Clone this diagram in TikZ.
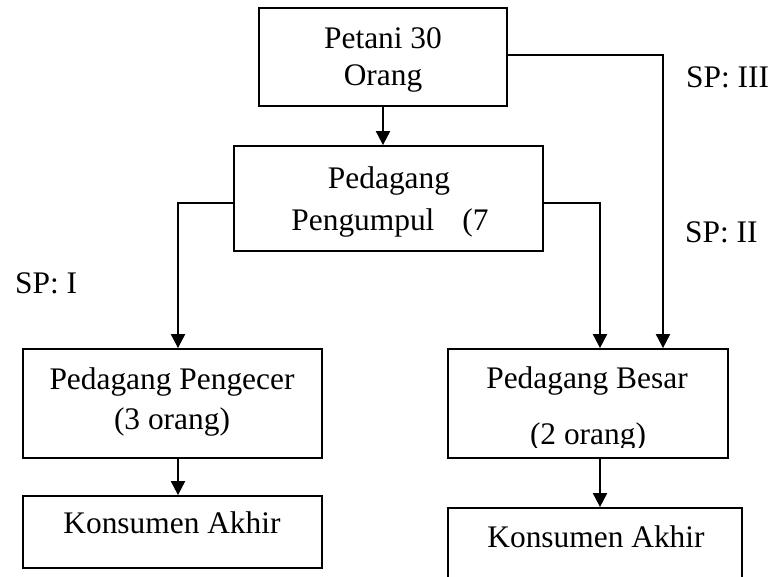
\documentclass[tikz,border=0pt]{standalone}
\usepackage{fontspec}
\setmainfont{Liberation Serif}
\usetikzlibrary{arrows.meta}
\begin{document}
\begin{tikzpicture}[x=1pt,y=-1pt,
  box/.style={draw,line width=1.8pt,rectangle,inner sep=0pt},
  txt/.style={anchor=base,inner sep=0pt,font=\fontsize{31.4}{37}\selectfont},
  arr/.style={line width=2pt,-{Triangle[width=14pt,length=14pt]}}]
\clip (0,0) rectangle (771,576);
\fill[white] (0,0) rectangle (771,576);
% boxes
\node[box,minimum width=248pt,minimum height=98pt] (petani) at (383,57) {};
\node[box,minimum width=309pt,minimum height=105pt] (pengumpul) at (388.5,198.5) {};
\node[box,minimum width=299pt,minimum height=109pt] (pengecer) at (172.5,403.5) {};
\node[box,minimum width=280pt,minimum height=109pt] (besar) at (588,403.5) {};
\node[box,minimum width=299pt,minimum height=72pt] (kons1) at (172.5,532) {};
\node[box,minimum width=294pt,minimum height=100pt] (kons2) at (595,558) {};
% texts
\node[txt] (tpet1) at (383,48) {Petani 30};
\node[txt] (tpet2) at (383,85) {Orang};
\node[txt] (tpeng1) at (389,188) {Pedagang};
\node[txt] (tpeng2) at (390,230) {Pengumpul\hspace{28pt}(7};
\node[txt] (tpc1) at (172,389) {Pedagang Pengecer};
\node[txt] (tpc2) at (172,429) {(3 orang)};
\node[txt] (tbs1) at (587,388) {Pedagang Besar};
\begin{scope}
\clip (448,420) rectangle (728,447);
\node[txt] (tbs2) at (588,444) {(2 orang)};
\end{scope}
\node[txt] (tk1) at (172,533) {Konsumen Akhir};
\node[txt] (tk2) at (596,547) {Konsumen Akhir};
\node[txt,anchor=base west] (sp3) at (686,87) {SP: III};
\node[txt,anchor=base west] (sp2) at (685,242) {SP: II};
\node[txt,anchor=base west] (sp1) at (15,293) {SP: I};
% connector helper coordinates
\coordinate (c1) at (178,203);
\coordinate (c2) at (600,203);
\coordinate (c3) at (663,55);
% connectors
\draw[arr] (petani.south) -- (petani.south |- pengumpul.north);
\draw[arr] (petani.east |- c3) -| (c3 |- besar.north);
\draw[arr] (pengumpul.east |- c2) -| (c2 |- besar.north);
\draw[arr] (pengumpul.west |- c1) -| (c1 |- pengecer.north);
\draw[arr] (pengecer.south -| c1) -- (kons1.north -| c1);
\draw[arr] (besar.south -| c2) -- (kons2.north -| c2);
\end{tikzpicture}
\end{document}
